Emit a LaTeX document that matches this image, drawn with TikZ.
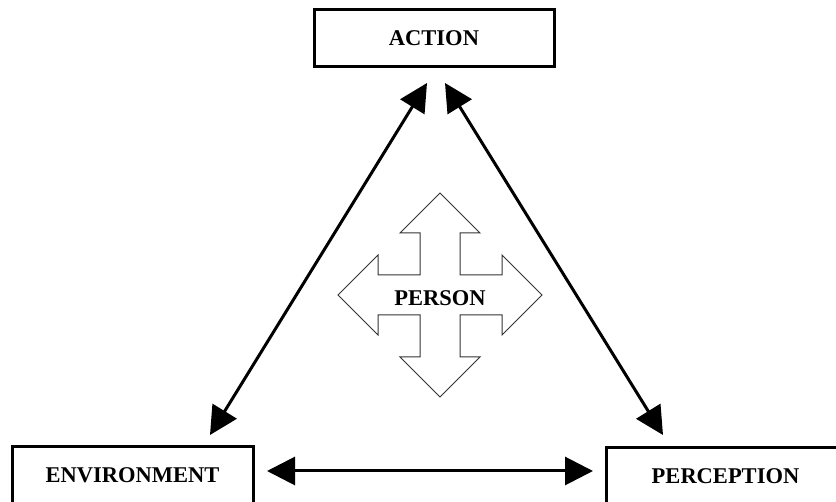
\documentclass[tikz,border=0pt]{standalone}
\usepackage{fontspec}
\setmainfont{Liberation Serif}
\usetikzlibrary{arrows.meta}
\begin{document}
\begin{tikzpicture}[x=1pt,y=-1pt,
  box/.style={draw=black,line width=3pt,fill=white,inner sep=0pt,font=\fontsize{22.5}{24}\selectfont\bfseries},
  conn/.style={line width=3pt,{Triangle[length=28pt,width=28pt]}-{Triangle[length=28pt,width=28pt]}},
  crossline/.style={draw=black!80,line width=1pt,fill=white,line join=miter}]
\clip (0,0) rectangle (836,502);
\fill[white] (0,0) rectangle (836,502);
% boxes
\node[box,minimum width=240pt,minimum height=57pt] (action) at (434,38.5) {ACTION};
\node[box,minimum width=241pt,minimum height=57pt] (env) at (132.5,475.5) {ENVIRONMENT};
\node[box,minimum width=239pt,minimum height=57pt] (perc) at (725.5,476.5) {PERCEPTION};
% connector end points
\coordinate (aL) at (427,83);
\coordinate (aR) at (445,83);
\coordinate (eT) at (210,435);
\coordinate (pT) at (663,435);
\coordinate (eR) at (267,471);
\coordinate (pL) at (593,471);
\draw[conn] (aL) -- (eT);
\draw[conn] (aR) -- (pT);
\draw[conn] (eR) -- (pL);
% person cross
\coordinate (pc) at (440,295);
\begin{scope}[shift={(pc)}]
\draw[crossline] (0,-102) -- (40,-62) -- (20,-62) -- (20,-20) -- (62,-20) -- (62,-40)
 -- (102,0) -- (62,40) -- (62,20) -- (20,20) -- (20,62) -- (40,62) -- (0,102)
 -- (-40,62) -- (-20,62) -- (-20,20) -- (-62,20) -- (-62,40) -- (-102,0)
 -- (-62,-40) -- (-62,-20) -- (-20,-20) -- (-20,-62) -- (-40,-62) -- cycle;
\end{scope}
\node[font=\fontsize{22.5}{24}\selectfont\bfseries,inner sep=0pt] (person) at (440,298) {PERSON};
\end{tikzpicture}
\end{document}
